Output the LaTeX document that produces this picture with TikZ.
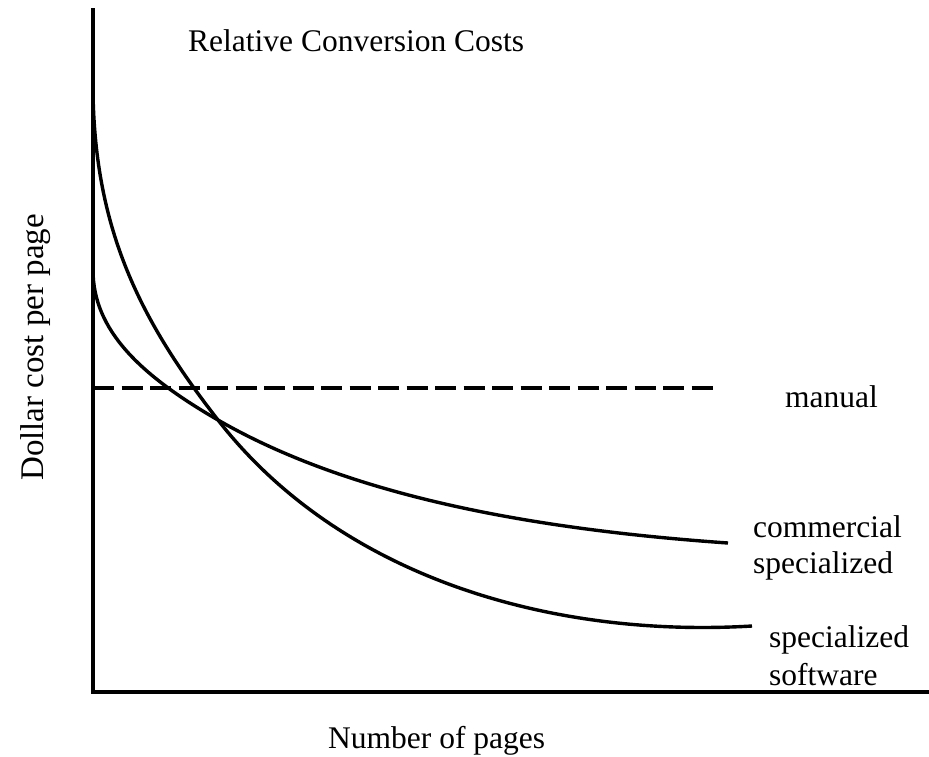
\documentclass[tikz,border=0pt]{standalone}
\usepackage{fontspec}
\setmainfont{Liberation Serif}
\begin{document}
\begin{tikzpicture}[x=1pt,y=-1pt,
  axisline/.style={line width=3.4pt},
  curveline/.style={line width=3.4pt, line join=round},
  dashline/.style={line width=3.6pt, dash pattern=on 21pt off 7.5pt},
  lbl/.style={font=\fontsize{31.5}{37}\selectfont, inner sep=0pt, anchor=base west, align=left}]
\useasboundingbox (0,0) rectangle (929,756);
% axes
\coordinate (ytop) at (93,8);
\coordinate (origin) at (93,692);
\coordinate (xend) at (929,692);
\draw[axisline] (ytop) -- (origin) -- (xend);
% manual (dashed)
\coordinate (m0) at (93,388);
\coordinate (m1) at (718,388);
\draw[dashline] (m0) -- (m1);
% crossing point of the two curves
\coordinate (cross) at (218,420);
% specialized software
\coordinate (s0) at (93,92);
\coordinate (s1) at (752,626);
\draw[curveline] (s0) .. controls (95,230) and (140,320) .. (cross)
  .. controls (341,578) and (552,638) .. (s1);
% commercial specialized
\coordinate (c0) at (93,270);
\coordinate (c1) at (728,543);
\draw[curveline] (c0) .. controls (93,330) and (140,375) .. (cross)
  .. controls (348,495) and (528,529) .. (c1);
% labels
\node[lbl] (title) at (188,51) {Relative Conversion Costs};
\node[lbl] (manual) at (785,407) {manual};
\node[lbl] (comm1) at (753,537) {commercial};
\node[lbl] (comm2) at (753,573) {specialized};
\node[lbl] (soft1) at (769,647) {specialized};
\node[lbl] (soft2) at (769,685) {software};
\node[lbl] (xlab) at (328,748) {Number of pages};
\node[lbl, rotate=90, font=\fontsize{33}{39}\selectfont] (ylab) at (43,481) {Dollar cost per page};
\end{tikzpicture}
\end{document}
